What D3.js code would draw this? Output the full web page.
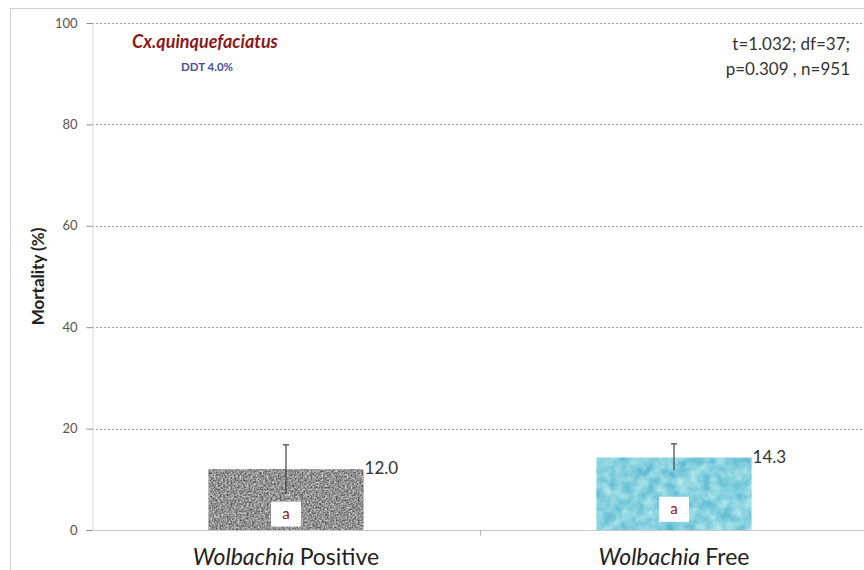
<!DOCTYPE html>
<html>
<head>
<meta charset="utf-8">
<script src="https://cdn.jsdelivr.net/npm/d3@7"></script>
<style>
  body { margin: 0; background: #fff; }
  svg { font-family: Lato, "Open Sans", sans-serif; }
</style>
</head>
<body>
<div id="chart"></div>
<script>
const categories = ["Positive", "Free"];
const mortality = [12.0, 14.3];
const errUp = [16.8, 17.0];
const errDown = [7.3, 11.8];
const groupLetters = ["a", "a"];
const yTicks = [0, 20, 40, 60, 80, 100];

const width = 864, height = 570;
const margin = { top: 23, right: -4, bottom: 40, left: 92 };

const svg = d3.select("#chart")
   .append("svg")
   .attr("width", width)
   .attr("height", height);

// textures for the two bars
const defs = svg.append("defs");
const granite = defs.append("filter").attr("id", "granite")
   .attr("x", 0).attr("y", 0).attr("width", 1).attr("height", 1)
   .attr("color-interpolation-filters", "sRGB");
granite.append("feTurbulence")
   .attr("type", "fractalNoise").attr("baseFrequency", 0.55)
   .attr("numOctaves", 2).attr("seed", 4).attr("result", "n");
granite.append("feColorMatrix").attr("in", "n").attr("type", "matrix")
   .attr("values", "0.9 0 0 0 0.12  0.9 0 0 0 0.12  0.9 0 0 0 0.12  0 0 0 0 1")
   .attr("result", "g");
granite.append("feComposite").attr("in", "g").attr("in2", "SourceGraphic").attr("operator", "in");

const water = defs.append("filter").attr("id", "water")
   .attr("x", 0).attr("y", 0).attr("width", 1).attr("height", 1)
   .attr("color-interpolation-filters", "sRGB");
water.append("feTurbulence")
   .attr("type", "fractalNoise").attr("baseFrequency", 0.09)
   .attr("numOctaves", 3).attr("seed", 7).attr("result", "n");
water.append("feColorMatrix").attr("in", "n").attr("type", "matrix")
   .attr("values", "0.5 0 0 0 0.28  0.28 0 0 0 0.68  0.15 0 0 0 0.8  0 0 0 0 1")
   .attr("result", "b");
water.append("feComposite").attr("in", "b").attr("in2", "SourceGraphic").attr("operator", "in");

// outer frame
svg.append("path")
   .attr("d", "M10.5," + height + "V8.5H" + width)
   .attr("fill", "none")
   .attr("stroke", "#d0d0d0");

const plotW = width - margin.left - margin.right;

const x = d3.scaleBand()
   .domain(categories)
   .range([margin.left, margin.left + plotW])
   .paddingInner(0.6)
   .paddingOuter(0.3);

const xGroup = d3.scaleBand()
   .domain(categories)
   .range([margin.left, margin.left + plotW]);

const y = d3.scaleLinear()
   .domain([0, 100])
   .range([530, margin.top]);

// grid lines
svg.append("g")
   .selectAll("line")
   .data(yTicks.filter(d => d > 0))
   .enter()
   .append("line")
   .attr("x1", margin.left)
   .attr("x2", width)
   .attr("y1", d => Math.round(y(d)) + 0.5)
   .attr("y2", d => Math.round(y(d)) + 0.5)
   .attr("stroke", "#a0a0a0")
   .attr("stroke-width", 1)
   .attr("stroke-dasharray", "2,2");

// y axis
const yAxis = d3.axisLeft(y).tickValues(yTicks).tickSize(6).tickPadding(9);
const gy = svg.append("g")
   .attr("transform", "translate(" + (margin.left + 0.5) + ",0)")
   .call(yAxis);
gy.select(".domain").attr("stroke", "#d9d9d9");
gy.selectAll(".tick line").attr("stroke", "#8a8a8a");
gy.selectAll(".tick text")
   .attr("fill", "#555")
   .style("font-size", "13px")
   .style("font-family", "Lato, sans-serif");

// x axis
const gx = svg.append("g")
   .attr("transform", "translate(0," + (Math.round(y(0)) + 0.5) + ")");
gx.append("line")
   .attr("x1", margin.left).attr("x2", width)
   .attr("stroke", "#c8c8c8");
gx.selectAll(".sep")
   .data(categories.slice(1))
   .enter()
   .append("line")
   .attr("x1", d => Math.round(xGroup(d)) + 0.5)
   .attr("x2", d => Math.round(xGroup(d)) + 0.5)
   .attr("y1", 0).attr("y2", 5)
   .attr("stroke", "#b0b0b0");

const xl = svg.append("g")
   .selectAll("text")
   .data(categories)
   .enter()
   .append("text")
   .attr("x", d => x(d) + x.bandwidth() / 2)
   .attr("y", 565)
   .attr("text-anchor", "middle")
   .attr("fill", "#222")
   .style("font-size", "23px");
xl.append("tspan").style("font-style", "italic").text("Wolbachia ");
xl.append("tspan").text(d => d);

// bars
const data = categories.map((c, i) => ({
   cat: c, v: mortality[i], hi: errUp[i], lo: errDown[i], letter: groupLetters[i]
}));

svg.append("g")
   .selectAll("rect")
   .data(data)
   .enter()
   .append("rect")
   .attr("x", d => x(d.cat))
   .attr("y", d => y(d.v))
   .attr("width", x.bandwidth())
   .attr("height", d => y(0) - y(d.v))
   .attr("fill", "#888")
   .attr("filter", (d, i) => i === 0 ? "url(#granite)" : "url(#water)");

// error bars
const eb = svg.append("g")
   .selectAll("g")
   .data(data)
   .enter()
   .append("g")
   .attr("stroke", "#444")
   .attr("stroke-width", 1.2);
eb.append("line")
   .attr("x1", d => x(d.cat) + x.bandwidth() / 2)
   .attr("x2", d => x(d.cat) + x.bandwidth() / 2)
   .attr("y1", d => y(d.hi))
   .attr("y2", d => y(d.lo));
eb.append("line")
   .attr("x1", d => x(d.cat) + x.bandwidth() / 2 - 3)
   .attr("x2", d => x(d.cat) + x.bandwidth() / 2 + 3)
   .attr("y1", d => y(d.hi))
   .attr("y2", d => y(d.hi));

// letter boxes
const lb = svg.append("g")
   .selectAll("g")
   .data(data)
   .enter()
   .append("g")
   .attr("transform", (d, i) =>
      "translate(" + (x(d.cat) + x.bandwidth() / 2) + "," + (y(d.v / 2) + (i === 0 ? 14 : 15)) + ")");
lb.append("rect")
   .attr("x", -15).attr("y", -12)
   .attr("width", 30).attr("height", 25)
   .attr("fill", "#fff");
lb.append("text")
   .attr("text-anchor", "middle")
   .attr("dy", "0.35em")
   .attr("fill", "#8b2020")
   .style("font-size", "15px")
   .text(d => d.letter);

// value labels
svg.append("g")
   .selectAll("text")
   .data(data)
   .enter()
   .append("text")
   .attr("x", d => x(d.cat) + x.bandwidth() + 1)
   .attr("y", d => y(d.v))
   .attr("dy", "0.3em")
   .attr("fill", "#333")
   .style("font-size", "17px")
   .text(d => d.v.toFixed(1));

// y label
svg.append("text")
   .attr("transform", "translate(44," + y(50) + ") rotate(-90)")
   .attr("text-anchor", "middle")
   .attr("fill", "#222")
   .style("font-size", "17px")
   .style("font-weight", "bold")
   .text("Mortality (%)");

// annotations
svg.append("text")
   .attr("x", 205).attr("y", 48)
   .attr("text-anchor", "middle")
   .attr("fill", "#8b1a1a")
   .style("font-size", "18px")
   .style("font-weight", "bold")
   .style("font-style", "italic")
   .text("Cx.quinquefaciatus");
svg.append("text")
   .attr("x", 207).attr("y", 71)
   .attr("text-anchor", "middle")
   .attr("fill", "#4a4f9c")
   .style("font-size", "11.5px")
   .style("font-weight", "bold")
   .text("DDT 4.0%");

svg.append("text")
   .attr("x", 850).attr("y", 50)
   .attr("text-anchor", "end")
   .attr("fill", "#333")
   .style("font-size", "17px")
   .text("t=1.032; df=37;");
svg.append("text")
   .attr("x", 850).attr("y", 75)
   .attr("text-anchor", "end")
   .attr("fill", "#333")
   .style("font-size", "17px")
   .text("p=0.309 , n=951");
</script>
</body>
</html>
